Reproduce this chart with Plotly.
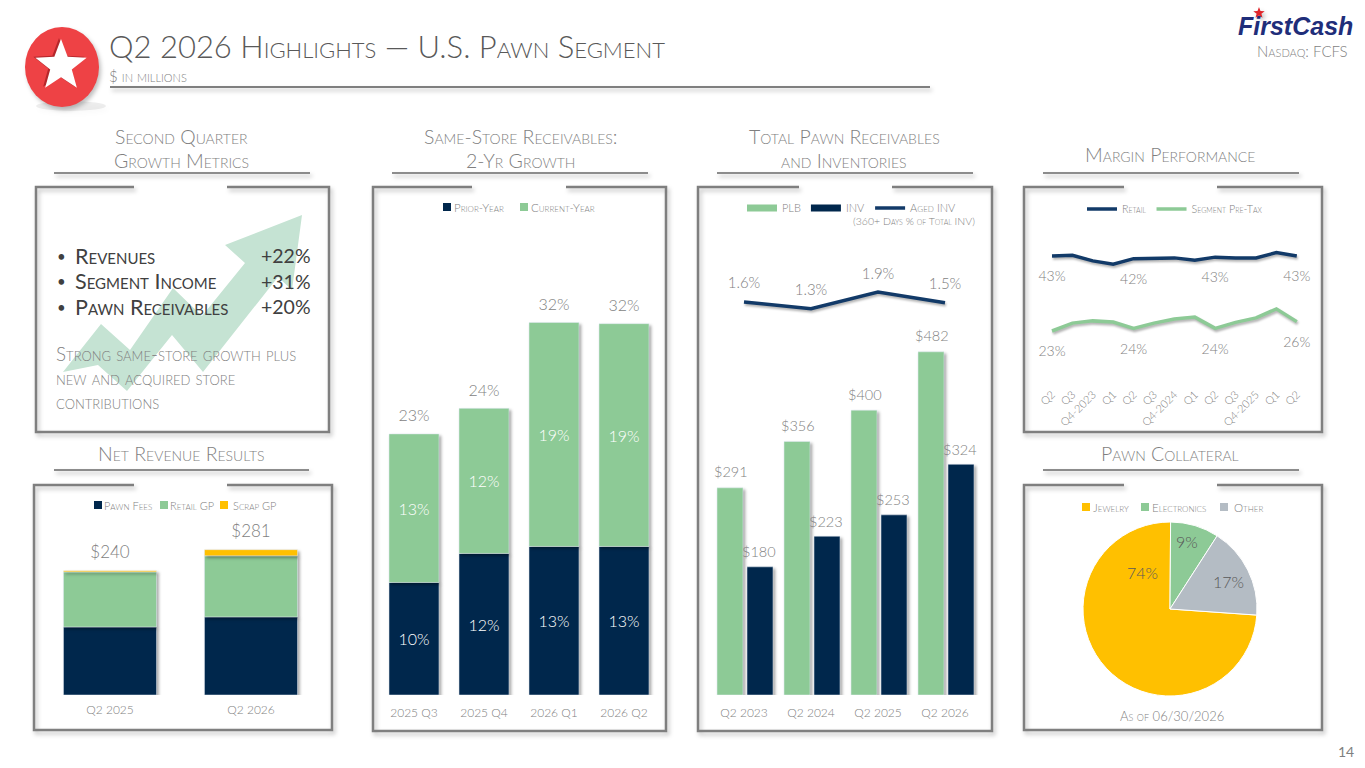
"""Q2 2026 highlights slide for the U.S. pawn segment, drawn on one page."""

import math

import plotly.graph_objects as go

W, H = 1365, 768
FONT = "Lato"
NAVY = "#00274C"
LINE_NAVY = "#123A68"
GREEN = "#8DCA96"
GOLD = "#FFC000"
SILVER = "#B4BCC4"
GREY = "#7F7F7F"
DARK = "#404040"

# Same-store receivables
ss_quarters = ["2025 Q3", "2025 Q4", "2026 Q1", "2026 Q2"]
ss_prior = [9.7, 12.2, 12.8, 12.8]
ss_current = [12.8, 12.5, 19.3, 19.2]
ss_prior_text = ["10%", "12%", "13%", "13%"]
ss_current_text = ["13%", "12%", "19%", "19%"]
ss_total_text = ["23%", "24%", "32%", "32%"]

# Total pawn receivables and inventories
inv_quarters = ["Q2 2023", "Q2 2024", "Q2 2025", "Q2 2026"]
plb_values = [291, 356, 400, 482]
inv_values = [180, 223, 253, 324]
aged_values = [1.6, 1.37, 1.93, 1.57]
aged_text = ["1.6%", "1.3%", "1.9%", "1.5%"]

# Margin performance
margin_ticks = ["Q2", "Q3", "Q4-2023", "Q1", "Q2", "Q3", "Q4-2024", "Q1", "Q2", "Q3", "Q4-2025", "Q1", "Q2"]
retail_margin = [43.0, 43.2, 41.7, 40.8, 42.3, 42.5, 42.5, 41.9, 42.7, 42.5, 42.5, 43.9, 43.0]
segment_margin = [23.0, 25.1, 25.7, 25.4, 23.7, 25.1, 26.2, 26.7, 23.7, 25.3, 26.5, 28.9, 25.5]
retail_text = ["43%", "", "", "", "42%", "", "", "", "43%", "", "", "", "43%"]
segment_text = ["23%", "", "", "", "24%", "", "", "", "24%", "", "", "", "26%"]

# Net revenue results
rev_quarters = ["Q2 2025", "Q2 2026"]
pawn_fees = [131.5, 151]
retail_gp = [106.5, 118]
scrap_gp = [2, 12]
rev_totals = [240, 281]
rev_text = ["$240", "$281"]

# Pawn collateral
collateral_labels = ["Jewelry", "Electronics", "Other"]
collateral_values = [74, 9, 17]
collateral_text = ["74%", "9%", "17%"]

# Growth metrics panel
metric_names = ["Revenues", "Segment Income", "Pawn Receivables"]
metric_values = ["+22%", "+31%", "+20%"]
note_lines = ["Strong same-store growth plus", "new and acquired store", "contributions"]


def fx(px):
    return px / W


def fy(px):
    return 1 - px / H


def dom_x(a, b):
    return [fx(a), fx(b)]


def dom_y(top, bottom):
    return [fy(bottom), fy(top)]


fig = go.Figure()
annotations = []
shapes = []


def note(text, x, y, size=16, color=GREY, anchor="center", weight=300, caps=True):
    # annotations pad their text by about 3px, take that back out
    nudge = {"left": -3, "right": 3}.get(anchor, 0)
    annotations.append(dict(
        text=text, x=fx(x + nudge), y=fy(y), xref="paper", yref="paper", showarrow=False,
        xanchor=anchor, yanchor="middle",
        font=dict(family=FONT, size=size, color=color, weight=weight,
                  variant="small-caps" if caps else "normal"),
    ))


def bar_label(category, value, xshift, yshift):
    annotations.append(dict(
        text=f"${value}", x=category, y=value, xref="x2", yref="y2", showarrow=False,
        xshift=xshift, yshift=yshift, xanchor="center", yanchor="middle",
        font=dict(family=FONT, size=14.5, color=GREY, weight=300),
    ))


def rule(x0, x1, y, color="#8C8C8C", width=2):
    shapes.append(dict(type="line", xref="paper", yref="paper", x0=fx(x0), x1=fx(x1),
                       y0=fy(y), y1=fy(y), line=dict(color=color, width=width), layer="above"))


def frame(x0, y0, x1, y1, gap0, gap1):
    # panel border with a gap in the top edge, under the heading
    pts = [(gap0, y0), (x0, y0), (x0, y1), (x1, y1), (x1, y0), (gap1, y0)]
    path = "M" + " L".join(f"{fx(a):.5f},{fy(b):.5f}" for a, b in pts)
    shapes.append(dict(type="path", path=path, xref="paper", yref="paper",
                       line=dict(color="#7F7F7F", width=2.5), layer="above"))


def polygon(pts, color, layer="above"):
    path = "M" + " L".join(f"{fx(a):.5f},{fy(b):.5f}" for a, b in pts) + " Z"
    shapes.append(dict(type="path", path=path, xref="paper", yref="paper",
                       fillcolor=color, line=dict(width=0), layer=layer))


def star(cx, cy, r, color, inner=0.42):
    pts = []
    for i in range(10):
        rad = r if i % 2 == 0 else r * inner
        ang = math.radians(-90 + 36 * i)
        pts.append((cx + rad * math.cos(ang), cy + rad * math.sin(ang)))
    polygon(pts, color)


def key(x, y, color, text, text_x, size=11.5):
    # small square legend key with its label
    shapes.append(dict(type="rect", xref="paper", yref="paper", x0=fx(x - 4), x1=fx(x + 4),
                       y0=fy(y + 4), y1=fy(y - 4), fillcolor=color, line=dict(width=0), layer="below"))
    note(text, text_x, y, size=size, anchor="left")


def small_legend(name, x, y, size=11):
    return {name: dict(x=fx(x), y=fy(y), xanchor="left", yanchor="middle", orientation="h",
                       bgcolor="rgba(0,0,0,0)", traceorder="normal", itemwidth=30,
                       font=dict(family=FONT, size=size, color=GREY, weight=300, variant="small-caps"))}


def cat_axis(a, b, n, standoff):
    return dict(domain=dom_x(a, b), range=[-0.5, n - 0.5], showgrid=False, zeroline=False, showline=False,
                ticks="", ticklabelstandoff=standoff, tickfont=dict(family=FONT, size=12, color=GREY, weight=300))


def value_axis(top, bottom, rng):
    return dict(domain=dom_y(top, bottom), range=rng, visible=False, showgrid=False, zeroline=False)


# ---- same-store bars
fig.add_trace(go.Bar(
    x=ss_quarters, y=ss_prior, width=0.714, marker_color=NAVY, showlegend=False,
    text=ss_prior_text, textposition="inside", insidetextanchor="middle",
    textfont=dict(family=FONT, size=16, color="white", weight=300),
    xaxis="x", yaxis="y",
))
fig.add_trace(go.Bar(
    x=ss_quarters, y=ss_current, base=ss_prior, width=0.714, marker_color=GREEN, showlegend=False,
    text=ss_current_text, textposition="inside", insidetextanchor="middle",
    textfont=dict(family=FONT, size=16, color="white", weight=300),
    xaxis="x", yaxis="y",
))
fig.add_trace(go.Scatter(
    x=ss_quarters, y=[p + c for p, c in zip(ss_prior, ss_current)], mode="markers+text", text=ss_total_text,
    textposition="top center", marker=dict(size=12, opacity=0),
    textfont=dict(family=FONT, size=16, color=GREY, weight=300),
    showlegend=False, cliponaxis=False, xaxis="x", yaxis="y",
))
key(447, 207, NAVY, "Prior-Year", 455)
key(524, 207, GREEN, "Current-Year", 532)

# ---- receivables and inventories
fig.add_trace(go.Bar(x=inv_quarters, y=plb_values, width=0.388, offset=-0.403, marker_color=GREEN,
                     showlegend=False, xaxis="x2", yaxis="y2"))
fig.add_trace(go.Bar(x=inv_quarters, y=inv_values, width=0.388, offset=0.045, marker_color=NAVY,
                     showlegend=False, xaxis="x2", yaxis="y2"))
for quarter, plb, inv in zip(inv_quarters, plb_values, inv_values):
    bar_label(quarter, plb, -13, 16)
    bar_label(quarter, inv, 15, 15)
fig.add_trace(go.Scatter(
    x=inv_quarters, y=aged_values, mode="lines+markers+text", text=aged_text, textposition="top center",
    line=dict(color=LINE_NAVY, width=3.5), marker=dict(size=14, opacity=0), showlegend=False,
    textfont=dict(family=FONT, size=15, color=GREY, weight=300), cliponaxis=False, xaxis="x2", yaxis="y5",
))
# legend keys for this panel are wide, so they come from line entries
fig.add_trace(go.Scatter(x=[None], y=[None], mode="lines", name="PLB", line=dict(color=GREEN, width=7),
                         xaxis="x2", yaxis="y2", legend="legend2"))
fig.add_trace(go.Scatter(x=[None], y=[None], mode="lines", name="INV", line=dict(color=NAVY, width=7),
                         xaxis="x2", yaxis="y2", legend="legend2"))
fig.add_trace(go.Scatter(x=[None], y=[None], mode="lines", name="Aged INV", line=dict(color=LINE_NAVY, width=3.5),
                         xaxis="x2", yaxis="y2", legend="legend2"))

# ---- margins
margin_x = list(range(len(margin_ticks)))
for values, labels, name, color in [
    (retail_margin, retail_text, "Retail", LINE_NAVY),
    (segment_margin, segment_text, "Segment Pre-Tax", GREEN),
]:
    fig.add_trace(go.Scatter(x=margin_x, y=values, mode="lines", name=name, line=dict(color=color, width=3.5),
                             xaxis="x3", yaxis="y3", legend="legend3"))
    # labels sit a little below the line
    fig.add_trace(go.Scatter(x=margin_x, y=values, mode="markers+text", text=labels, textposition="bottom center",
                             marker=dict(size=22, opacity=0), showlegend=False, cliponaxis=False,
                             textfont=dict(family=FONT, size=14, color=GREY, weight=300), xaxis="x3", yaxis="y3"))

# ---- net revenue
fig.add_trace(go.Bar(x=rev_quarters, y=pawn_fees, width=0.66, marker_color=NAVY, showlegend=False,
                     xaxis="x4", yaxis="y4"))
fig.add_trace(go.Bar(x=rev_quarters, y=retail_gp, base=pawn_fees, width=0.66, marker_color=GREEN, showlegend=False,
                     xaxis="x4", yaxis="y4"))
fig.add_trace(go.Bar(x=rev_quarters, y=scrap_gp, base=[p + r for p, r in zip(pawn_fees, retail_gp)], width=0.66,
                     marker_color=GOLD, showlegend=False, xaxis="x4", yaxis="y4"))
fig.add_trace(go.Scatter(x=rev_quarters, y=rev_totals, mode="markers+text", text=rev_text, textposition="top center",
                         marker=dict(size=12, opacity=0),
                         textfont=dict(family=FONT, size=17, color=GREY, weight=300), showlegend=False,
                         cliponaxis=False, xaxis="x4", yaxis="y4"))
key(98, 505, NAVY, "Pawn Fees", 105, size=11)
key(164, 505, GREEN, "Retail GP", 171, size=11)
key(224, 505, GOLD, "Scrap GP", 234, size=11)

# ---- collateral pie
fig.add_trace(go.Pie(
    labels=collateral_labels, values=collateral_values, sort=False, direction="clockwise", rotation=94,
    marker=dict(colors=[GOLD, GREEN, SILVER], line=dict(color="white", width=1)), textinfo="none",
    domain=dict(x=dom_x(1083, 1257), y=dom_y(522, 696)), hoverinfo="label+percent", showlegend=False,
))
for label, px_x, px_y in zip(collateral_text, [1142, 1187, 1228], [572, 541, 581]):
    note(label, px_x, px_y, size=16, color="#595959", caps=False)
key(1086, 507, GOLD, "Jewelry", 1094)
key(1145, 507, GREEN, "Electronics", 1153)
key(1224, 507, SILVER, "Other", 1235)

# ---- page furniture
note("Q2 2026 Highlights — U.S. Pawn Segment", 110, 46, size=31, color="#595959", anchor="left")
note("$ in millions", 110, 76, size=15, anchor="left")
rule(110, 930, 87, color="#7F7F7F")

shapes.append(dict(type="circle", xref="paper", yref="paper", x0=fx(36), x1=fx(106), y0=fy(111), y1=fy(101),
                   fillcolor="rgba(0,0,0,0.07)", line=dict(width=0), layer="above"))
shapes.append(dict(type="circle", xref="paper", yref="paper", x0=fx(25), x1=fx(99), y0=fy(107), y1=fy(27),
                   fillcolor="#EE4245", line=dict(width=0), layer="above"))
star(59, 65, 27, "#B5272B")
star(61, 66, 27, "white")

note("<b><i>FirstCash</i></b>", 1295, 26, size=25, color="#1F2E7A", caps=False, weight=900)
annotations[-1]["font"]["family"] = "Liberation Sans"
star(1259, 13, 6, "#E0262B")
note("Nasdaq: FCFS", 1347, 51, size=15, anchor="right")
note("14", 1346, 751, size=14, color=GREY, caps=False, weight=400)

for line_one, line_two, cx, x0, x1 in [
    ("Second Quarter", "Growth Metrics", 181, 54, 310),
    ("Same-Store Receivables:", "2-Yr Growth", 520, 392, 648),
    ("Total Pawn Receivables", "and Inventories", 844, 717, 973),
]:
    note(line_one, cx, 136, size=19.5)
    note(line_two, cx, 160, size=19.5)
    rule(x0, x1, 173)
note("Margin Performance", 1170, 155, size=19.5)
rule(1043, 1299, 173)
note("Net Revenue Results", 181, 453, size=19.5)
rule(54, 309, 470)
note("Pawn Collateral", 1170, 453, size=19.5)
rule(1043, 1299, 470)

frame(36, 187, 329, 432, 134, 227)
frame(373, 187, 666, 731, 472, 566)
frame(698, 187, 992, 731, 799, 892)
frame(1024, 187, 1322, 432, 1124, 1217)
frame(34, 485, 332, 730, 134, 227)
frame(1024, 485, 1322, 730, 1124, 1217)

# growth arrow behind the metrics text
polygon([(63, 372), (101, 324), (130, 350), (173, 288), (202, 316), (245, 263), (225, 245), (302, 215),
         (292, 290), (278, 277), (203, 372), (172, 335), (127, 391), (98, 365)], "#C5E3D3", layer="below")

for name, value, y in zip(metric_names, metric_values, [256, 281, 307]):
    note("•", 61, y, size=15, color=DARK, caps=False, weight=400)
    note(name, 76, y, size=21.5, color=DARK, anchor="left", weight=400)
    note(value, 310, y, size=19.5, color=DARK, anchor="right", caps=False, weight=400)
for line, y in zip(note_lines, [353, 377, 401]):
    note(line, 57, y, size=18.9, anchor="left")

note("(360+ Days % of Total INV)", 914, 221, size=10.5)
note("As of 06/30/2026", 1172, 716, size=13)

layout = dict(
    width=W, height=H, margin=dict(l=0, r=0, t=0, b=0, autoexpand=False), autosize=False,
    paper_bgcolor="white", plot_bgcolor="rgba(0,0,0,0)",
    barmode="overlay", showlegend=True,
    annotations=annotations, shapes=shapes,
    xaxis=cat_axis(379, 659, 4, 9),
    yaxis=value_axis(290, 695, [0, 34.9]),
    xaxis2=cat_axis(710.5, 978.5, 4, 9),
    yaxis2=value_axis(250, 695, [0, 625]),
    yaxis5=dict(value_axis(250, 695, [-11.5, 3.33]), overlaying="y2", anchor="x2"),
    xaxis3=dict(domain=dom_x(1041.8, 1307), range=[-0.5, 12.5], tickmode="array", tickvals=margin_x,
                ticktext=margin_ticks, tickangle=-45, showgrid=False, zeroline=False, showline=False, ticks="",
                tickfont=dict(family=FONT, size=11, color=GREY, weight=300)),
    yaxis3=value_axis(226, 385, [8.6, 51]),
    xaxis4=cat_axis(39.5, 321.5, 2, 6),
    yaxis4=value_axis(515, 695, [0, 348]),
)
layout["xaxis"]["anchor"] = "y"
layout["xaxis2"]["anchor"] = "y2"
layout["xaxis3"]["anchor"] = "y3"
layout["xaxis4"]["anchor"] = "y4"
layout["yaxis"]["anchor"] = "x"
layout["yaxis2"]["anchor"] = "x2"
layout["yaxis3"]["anchor"] = "x3"
layout["yaxis4"]["anchor"] = "x4"
layout.update(small_legend("legend2", 742, 208))
layout.update(small_legend("legend3", 1082, 209, size=10.7))
fig.update_layout(**layout)

# soft shadows like the slide, plus no page margin
post = """
document.body.style.margin = '0';
var s = document.createElement('style');
s.textContent = '.barlayer .point path{filter:drop-shadow(2px 2px 1.5px rgba(0,0,0,.35))}'
  + '.scatterlayer .js-line{filter:drop-shadow(1px 2px 1px rgba(0,0,0,.3))}'
  + '.layer-above .shapelayer{filter:drop-shadow(2px 3px 2px rgba(0,0,0,.25))}';
document.head.appendChild(s);
"""
fig.write_html("out.html", post_script=post, config=dict(displayModeBar=False))
